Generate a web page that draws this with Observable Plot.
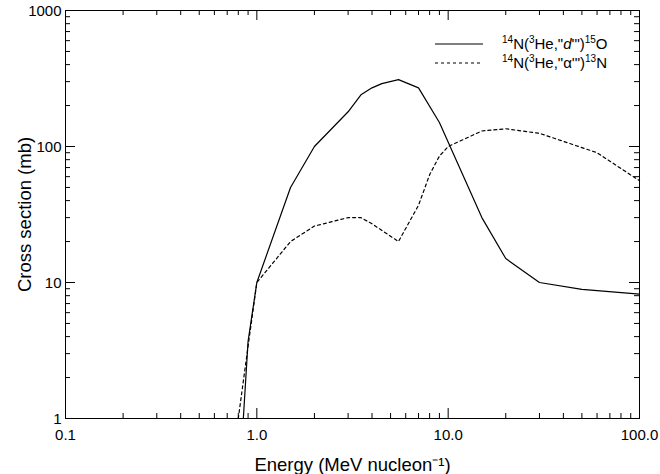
<!DOCTYPE html>
<html><head><meta charset="utf-8">
<script src="https://cdn.jsdelivr.net/npm/d3@7"></script>
<script src="https://cdn.jsdelivr.net/npm/@observablehq/plot@0.6"></script>
<style>body{margin:0;background:#fff} svg{display:block}</style>
</head><body><div id="chart"></div>
<script>
// 14N(3He,"d")15O  (solid)
const dEnergy = [0.85, 0.9, 1.0, 1.5, 2, 3, 3.5, 4, 4.5, 5.5, 7, 9, 15, 20, 30, 50, 100];
const dCross  = [1, 3.7, 10, 50, 100, 180, 240, 270, 290, 310, 270, 150, 30, 15, 10, 8.9, 8.2];
// 14N(3He,"alpha")13N  (dashed)
const aEnergy = [0.8, 0.87, 1.0, 1.5, 2, 3, 3.5, 4, 5.5, 7, 8, 9, 10, 15, 20, 30, 60, 100];
const aCross  = [1, 2.4, 10, 20, 26, 30, 30, 27, 20, 37, 62, 85, 100, 130, 135, 125, 90, 56];

const xMajor = [0.1, 1, 10, 100];
const xMajorLabels = ["0.1", "1.0", "10.0", "100.0"];
const xMinor = [0.2,0.3,0.4,0.5,0.6,0.7,0.8,0.9, 2,3,4,5,6,7,8,9, 20,30,40,50,60,70,80,90];
const yMajor = [1, 10, 100, 1000];
const yMajorLabels = ["1", "10", "100", "1000"];
const yMinor = [2,3,4,5,6,7,8,9, 20,30,40,50,60,70,80,90, 200,300,400,500,600,700,800,900];

const xLab = new Map(xMajor.map((d, i) => [d, xMajorLabels[i]]));
const yLab = new Map(yMajor.map((d, i) => [d, yMajorLabels[i]]));

const dData = dEnergy.map((e, i) => ({e, xs: dCross[i]}));
const aData = aEnergy.map((e, i) => ({e, xs: aCross[i]}));

const W = 660, H = 474, ML = 65, MR = 21, MT = 10, MB = 56;
const PW = W - ML - MR, PH = H - MT - MB;
const majLen = 10, minLen = 5;

const chart = Plot.plot({
  width: W, height: H,
  marginLeft: ML, marginRight: MR, marginTop: MT, marginBottom: MB,
  style: {fontFamily: "'Liberation Sans', Arial, sans-serif", fontSize: "15px", color: "#000", background: "#fff"},
  x: {type: "log", domain: [0.1, 100]},
  y: {type: "log", domain: [1, 1000]},
  marks: [
    Plot.axisX(xMajor, {anchor: "bottom", tickSize: 0, tickPadding: 11, tickFormat: d => xLab.get(d),
      label: "Energy (MeV nucleon⁻¹)", labelAnchor: "center", labelArrow: "none", labelOffset: 52}),
    Plot.axisY(yMajor, {anchor: "left", tickSize: 0, tickPadding: 4, dy: 1, tickFormat: d => yLab.get(d),
      label: "Cross section (mb)", labelAnchor: "center", labelArrow: "none", labelOffset: 48}),
    // inward ticks on all four sides
    Plot.tickX(xMajor, {x: d => d, insetTop: PH - majLen, stroke: "#000"}),
    Plot.tickX(xMinor, {x: d => d, insetTop: PH - minLen, stroke: "#000"}),
    Plot.tickX(xMajor, {x: d => d, insetBottom: PH - majLen, stroke: "#000"}),
    Plot.tickX(xMinor, {x: d => d, insetBottom: PH - minLen, stroke: "#000"}),
    Plot.tickY(yMajor, {y: d => d, insetRight: PW - majLen, stroke: "#000"}),
    Plot.tickY(yMinor, {y: d => d, insetRight: PW - minLen, stroke: "#000"}),
    Plot.tickY(yMajor, {y: d => d, insetLeft: PW - majLen, stroke: "#000"}),
    Plot.tickY(yMinor, {y: d => d, insetLeft: PW - minLen, stroke: "#000"}),
    Plot.frame({stroke: "#000", strokeWidth: 1}),
    Plot.line(dData, {x: "e", y: "xs", stroke: "#000", strokeWidth: 1.2}),
    Plot.line(aData, {x: "e", y: "xs", stroke: "#000", strokeWidth: 1.2, strokeDasharray: "3,3"})
  ]
});

const svg = d3.select(chart);
svg.selectAll('[aria-label="x-axis label"] text, [aria-label="y-axis label"] text').style("font-size", "18.5px");

// Legend
const legend = svg.append("g").attr("font-family", "'Liberation Sans', Arial, sans-serif")
  .attr("fill", "#000").attr("text-anchor", "start");
const rows = [
  {y: 44, dash: null, parts: [["sup","14"],["n","N("],["sup","3"],["n","He,\""],["i","d"],["n","'\")"],["sup","15"],["n","O"]]},
  {y: 63, dash: "3,3", parts: [["sup","14"],["n","N("],["sup","3"],["n","He,\""],["n","α"],["n","'\")"],["sup","13"],["n","N"]]}
];
rows.forEach(r => {
  legend.append("line").attr("x1", 435).attr("x2", 483).attr("y1", r.y).attr("y2", r.y)
    .attr("stroke", "#000").attr("stroke-width", 1.2).attr("stroke-dasharray", r.dash);
  const t = legend.append("text").attr("x", 502).attr("y", r.y + 5).attr("font-size", 15);
  let shifted = false;
  r.parts.forEach(([k, s]) => {
    const ts = t.append("tspan").text(s);
    if (k === "sup") { ts.attr("font-size", 10).attr("dy", shifted ? 0 : -6); shifted = true; }
    else { if (shifted) { ts.attr("dy", 6); shifted = false; } if (k === "i") ts.attr("font-style", "italic"); }
  });
});

document.getElementById("chart").appendChild(chart);
</script>
</body></html>
